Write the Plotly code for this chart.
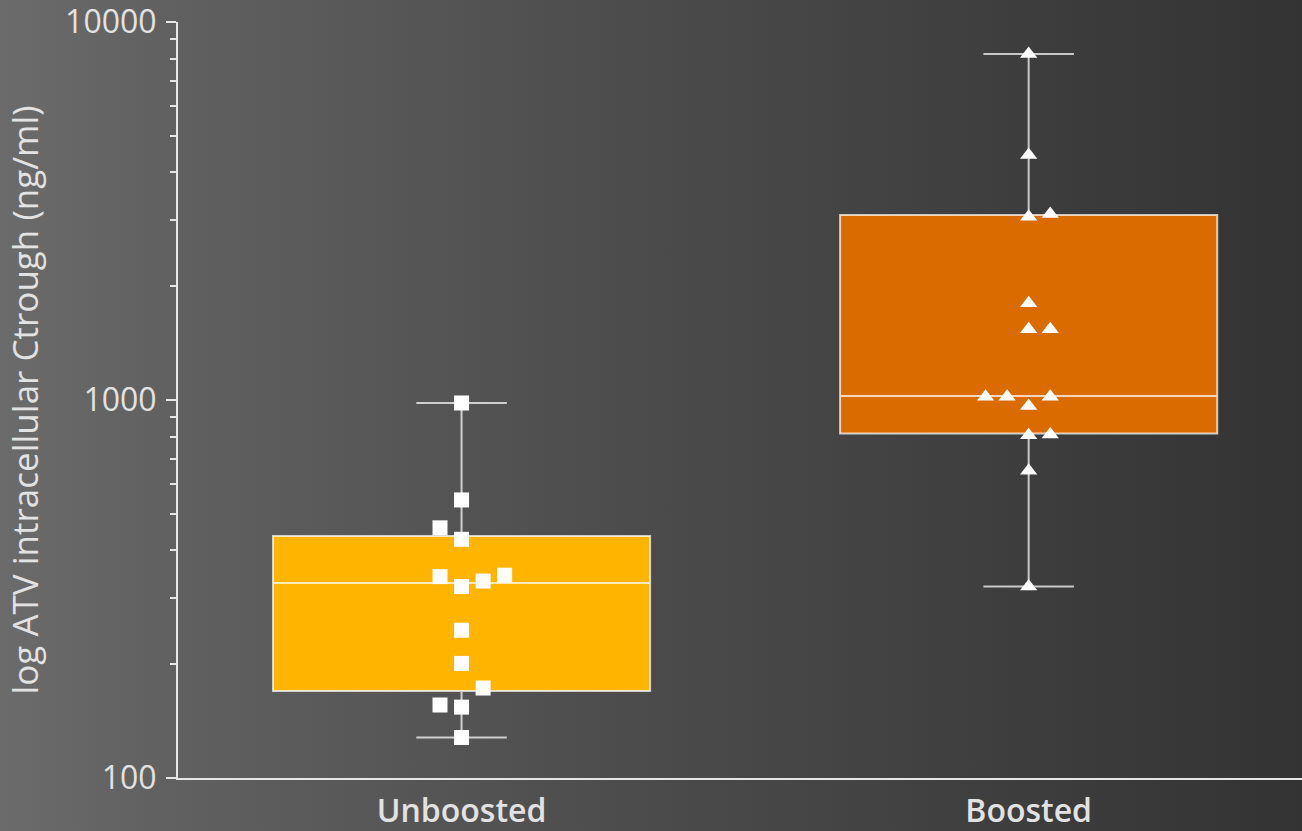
import base64
import plotly.graph_objects as go

# Groups on the x axis
categories = ["Unboosted", "Boosted"]

# Individual intracellular ATV Ctrough values (ng/ml)
unboosted_values = [982, 544, 459, 428, 344, 341, 332, 321, 246, 201, 173, 156, 154, 128]
boosted_values = [8230, 4446, 3105, 3054, 1802, 1538, 1538, 1020, 1020, 1020, 964, 810, 807, 650, 321]

# Box summary statistics per group (ng/ml)
box_q1 = [170, 816]
box_median = [328, 1025]
box_q3 = [437, 3086]
box_lower = [128, 321]
box_upper = [982, 8230]

# Axis ticks
y_tick_values = [100, 1000, 10000]
y_tick_labels = ["100", "1000", "10000"]

# Horizontal dodge slots so overlapping points stay visible
unboosted_slot = [0, 0, -1, 0, 2, -1, 1, 0, 0, 0, 1, -1, 0, 0]
boosted_slot = [0, 0, 1, 0, 0, 0, 1, -2, -1, 1, 0, 1, 0, 0, 0]
SLOT_STEP = 0.038

FILLS = ["#FFB400", "#D96B00"]
LINE = "rgba(255,255,255,0.72)"
AXIS = "#e6e6e6"
TEXT = "#e2e2e2"

W, H = 1302, 831
M_L, M_R, M_T, M_B = 178, 0, 22, 53

fig = go.Figure()

for i, name in enumerate(categories):
    fig.add_trace(go.Box(
        x=[i], q1=[box_q1[i]], median=[box_median[i]], q3=[box_q3[i]],
        lowerfence=[box_lower[i]], upperfence=[box_upper[i]],
        width=0.665, whiskerwidth=0.24,
        fillcolor=FILLS[i], line=dict(color=LINE, width=2),
        boxpoints=False, name=name, showlegend=False, hoverinfo="y",
    ))

groups = [
    (unboosted_values, unboosted_slot, "square", 15),
    (boosted_values, boosted_slot, "triangle-up", 15),
]
for i, (vals, slots, symbol, size) in enumerate(groups):
    fig.add_trace(go.Scatter(
        x=[i + s * SLOT_STEP for s in slots], y=vals, mode="markers",
        marker=dict(symbol=symbol, size=size, color="white", line=dict(width=0)),
        showlegend=False, hoverinfo="y", name=categories[i],
    ))

# Horizontal grey gradient behind the whole figure
svg = (
    f'<svg xmlns="http://www.w3.org/2000/svg" width="{W}" height="{H}" preserveAspectRatio="none">'
    '<defs><linearGradient id="g" x1="0" y1="0" x2="1" y2="0">'
    '<stop offset="0" stop-color="#6b6b6b"/>'
    '<stop offset="0.12" stop-color="#616161"/>'
    '<stop offset="0.5" stop-color="#4b4b4b"/>'
    '<stop offset="1" stop-color="#333333"/>'
    '</linearGradient></defs>'
    f'<rect width="{W}" height="{H}" fill="url(#g)"/></svg>'
)
bg_src = "data:image/svg+xml;base64," + base64.b64encode(svg.encode()).decode()

pw = W - M_L - M_R
ph = H - M_T - M_B
fig.add_layout_image(dict(
    source=bg_src, xref="paper", yref="paper",
    x=-M_L / pw, y=1 + M_T / ph, sizex=W / pw, sizey=H / ph,
    xanchor="left", yanchor="top", sizing="stretch", layer="below",
))

minor_vals = [m * 10 ** e for e in (2, 3) for m in range(2, 10)]

fig.update_layout(
    width=W, height=H,
    margin=dict(l=M_L, r=M_R, t=M_T, b=M_B, pad=0, autoexpand=False),
    paper_bgcolor="#4b4b4b", plot_bgcolor="rgba(0,0,0,0)",
    font=dict(family="Open Sans, Noto Sans, sans-serif", color=TEXT),
    xaxis=dict(
        range=[-0.5, 1.482], tickmode="array", tickvals=[0, 1], ticktext=categories,
        showline=True, linecolor=AXIS, linewidth=2, ticks="", showgrid=False,
        zeroline=False, tickfont=dict(size=32, color=TEXT, weight=600),
        ticklabelstandoff=4, automargin=False,
    ),
    yaxis=dict(
        type="log", range=[2, 4], tickmode="array", tickvals=y_tick_values, ticktext=y_tick_labels,
        showline=True, linecolor=AXIS, linewidth=2, ticks="outside", ticklen=10, tickwidth=2,
        tickcolor=AXIS, showgrid=False, zeroline=False, automargin=False,
        tickfont=dict(size=32, color=TEXT), ticklabelstandoff=3,
        ticklabeloverflow="allow",
        minor=dict(tickmode="array", tickvals=minor_vals, ticks="outside", ticklen=6,
                   tickwidth=2, tickcolor=AXIS, showgrid=False),
        title=dict(text="log ATV intracellular Ctrough (ng/ml)", font=dict(size=35, color=TEXT),
                   standoff=16),
    ),
)

fig.write_html("out.html")
